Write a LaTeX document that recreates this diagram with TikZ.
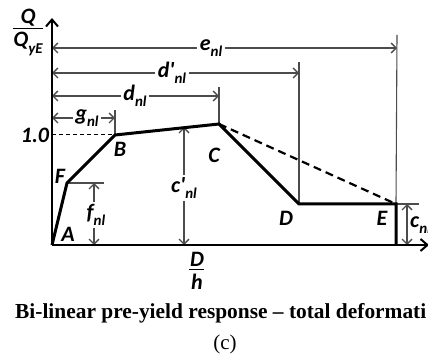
\documentclass[tikz,border=0pt]{standalone}
\usepackage{fontspec}
\setmainfont{Liberation Serif}
\newfontfamily\labfont{Carlito}
\usetikzlibrary{arrows.meta}
\newcommand\sbs[1]{\raisebox{-0.28em}{\fontsize{15}{15}\selectfont #1}}
\begin{document}
\begin{tikzpicture}[x=1pt,y=-1pt,
  curve/.style={line width=3pt, line join=miter},
  axis/.style={line width=2.4pt, -{Straight Barb[length=7pt,width=12pt,line width=2pt]}},
  dimline/.style={line width=1.1pt, draw=black!70},
  dimarr/.style={dimline, {Straight Barb[length=5pt,width=10pt,line width=1.4pt]}-{Straight Barb[length=5pt,width=10pt,line width=1.4pt]}},
  lbl/.style={font=\labfont\bfseries\itshape\fontsize{22}{24}\selectfont, inner sep=1pt},
  brk/.style={lbl, fill=white, inner sep=2.5pt}
]
\useasboundingbox (0,0) rectangle (428,355);
\clip (0,0) rectangle (428,355);
% key points
\coordinate (O) at (52,245);
\coordinate (Ytop) at (52,18);
\coordinate (Xend) at (429,245);
\coordinate (F) at (67,183);
\coordinate (B) at (115,135);
\coordinate (C) at (219,124);
\coordinate (D) at (299,204);
\coordinate (E) at (396,204);
\coordinate (Eb) at (396,245);
% dimension helpers
\coordinate (eL) at (52,48);   \coordinate (eR) at (397,48);  \coordinate (eT) at (397,35);
\coordinate (dpL) at (52,73);  \coordinate (dpR) at (299,73); \coordinate (dpT) at (299,62);
\coordinate (dL) at (52,96);   \coordinate (dR) at (219,96);  \coordinate (dT) at (219,87);
\coordinate (gL) at (52,118);  \coordinate (gR) at (115,118); \coordinate (gT) at (115,110);
\coordinate (oneL) at (52,135);
\coordinate (cpT) at (184,127); \coordinate (cpB) at (184,245);
\coordinate (fT) at (94,183);   \coordinate (fB) at (94,245);  \coordinate (fTick) at (104,183);
\coordinate (cT) at (407,204);  \coordinate (cB) at (407,245); \coordinate (cTick) at (419,204);
% extension lines
\draw[dimline] (eT) -- (E);
\draw[dimline] (dpT) -- (D);
\draw[dimline] (dT) -- (C);
\draw[dimline] (gT) -- (B);
\draw[dimline] (F) -- (fTick);
\draw[dimline] (E) -- (cTick);
\draw[line width=1pt, dash pattern=on 4pt off 3pt] (oneL) -- (B);
% dimension arrows
\draw[dimarr] (eL) -- (eR);
\draw[dimarr] (dpL) -- (dpR);
\draw[dimarr] (dL) -- (dR);
\draw[dimarr] (gL) -- (gR);
\draw[dimarr] (cpT) -- (cpB);
\draw[dimarr] (fT) -- (fB);
\draw[dimarr] (cT) -- (cB);
% axes
\draw[axis] (O) -- (Ytop);
\draw[axis] (O) -- (Xend);
% response curve
\draw[curve] (O) -- (F) -- (B) -- (C) -- (D) -- (E) -- (Eb);
\draw[line width=2.2pt, dash pattern=on 8pt off 5pt] (C) -- (E);
% dimension labels
\node[brk] (le) at (211,48) {e\sbs{nl}};
\node[brk] (ldp) at (172,73) {d'\sbs{nl}};
\node[brk] (ld) at (135,96) {d\sbs{nl}};
\node[brk] (lg) at (87,118) {g\sbs{nl}};
\node[brk] (lcp) at (184,188) {c'\sbs{nl}};
\node[brk] (lf) at (96,215) {f\sbs{nl}};
\node[lbl, anchor=west] (lc) at (409,225) {c\sbs{nl}};
% point labels
\node[lbl] (lA) at (68,234) {A};
\node[lbl] (lF) at (60,176) {F};
\node[lbl] (lB) at (120,149) {B};
\node[lbl] (lC) at (214,155) {C};
\node[lbl] (lD) at (286,218) {D};
\node[lbl] (lE) at (382,218) {E};
\node[lbl] (lone) at (35,135) {1.0};
% axis labels
\node[lbl] (lQ) at (28,18) {Q};
\coordinate (qa) at (13,29); \coordinate (qb) at (43,29);
\draw[line width=1pt] (qa) -- (qb);
\node[lbl] (lQy) at (28,44) {Q\sbs{yE}};
\node[lbl] (lDD) at (197,259) {D};
\coordinate (ha) at (189,269); \coordinate (hb) at (204,269);
\draw[line width=1pt] (ha) -- (hb);
\node[lbl] (lh) at (197,282) {h};
% caption
\node[anchor=base west, inner sep=0, font=\bfseries\fontsize{21.4}{24}\selectfont] (cap) at (15,318) {Bi-linear pre-yield response – total deformati};
\node[anchor=base, inner sep=0, font=\fontsize{21}{24}\selectfont] (sub) at (225,349) {(c)};
\end{tikzpicture}
\end{document}
